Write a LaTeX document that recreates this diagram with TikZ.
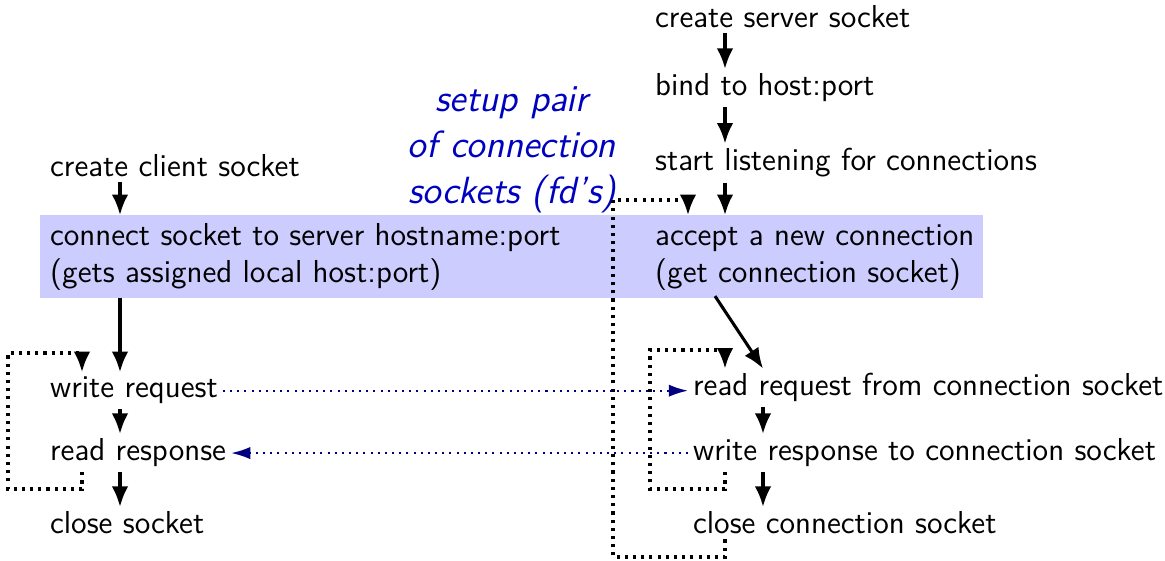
\documentclass[tikz,border=0pt]{standalone}
\usepackage{tikz}
\usetikzlibrary{arrows.meta}
\renewcommand{\familydefault}{\sfdefault}

\begin{document}
\begin{tikzpicture}[x=0.3906pt,y=-0.3906pt,
    txt/.style={anchor=base west,inner sep=0pt,outer sep=2pt,font=\fontsize{12.4}{14.5}\selectfont},
    flow/.style={-{Latex[length=8pt,width=6.5pt]},line width=1.2pt},
    dotloop/.style={-{Latex[length=8pt,width=6.5pt]},line width=1.2pt,dotted},
    msg/.style={-{Latex[length=7.5pt,width=4.8pt]},thick,dotted,color=blue!50!black},
    hl/.style={fill=blue!20,inner sep=0pt,outer sep=0pt,minimum width=368.3pt,minimum height=32.4pt}]
            \useasboundingbox (0,0) rectangle (1165,561);
            \node[hl] (box) at (511.5,256.5) {}; %highlight of the accept/connect step

            % columns of the arrows
            \coordinate (cx) at (120,0);
            \coordinate (lx) at (82,0);
            \coordinate (sx) at (725,0);
            \coordinate (ox) at (688,0);
            \coordinate (rx) at (763,0);
            \coordinate (ax) at (715,0);

            % client
            \node[txt] (ccs) at (45,177) {create client socket};
            \node[txt,align=left] (conn) at (45,283) {connect socket to server hostname:port\\(gets assigned local host:port)};
            \node[txt] (wreq) at (45,398) {write request};
            \node[txt] (rresp) at (45,461) {read response};
            \node[txt] (cls) at (45,534) {close socket};

            % server
            \node[txt] (css) at (650,28) {create server socket};
            \node[txt] (bind) at (650,96) {bind to host:port};
            \node[txt] (lst) at (650,171) {start listening for connections};
            \node[txt,align=left] (acc) at (650,283) {accept a new connection\\(get connection socket)};
            \node[txt] (rreq) at (688,396) {read request from connection socket};
            \node[txt] (wresp) at (688,461) {write response to connection socket};
            \node[txt] (clsc) at (688,534) {close connection socket};

            % note
            \node[align=center,text=blue!75!black,font=\fontsize{14.8}{18}\selectfont\itshape] (note) at (512,150) {setup pair\\of connection\\sockets (fd's)};

            % client arrows
            \draw[flow] (ccs.south -| cx) -- (box.north -| cx);
            \draw[flow] (box.south -| cx) -- (wreq.north -| cx);
            \draw[flow] (wreq.south -| cx) -- (rresp.north -| cx);
            \draw[flow] (rresp.south -| cx) -- (cls.north -| cx);
            \draw[dotloop] (rresp.south -| lx) |- (8,489) |- (82,353) -- (wreq.north -| lx);

            % server arrows
            \draw[flow] (css.south -| sx) -- (bind.north -| sx);
            \draw[flow] (bind.south -| sx) -- (lst.north -| sx);
            \draw[flow] (lst.south -| sx) -- (box.north -| sx);
            \draw[flow] (acc.south -| ax) -- (rreq.north -| rx);
            \draw[flow] (rreq.south -| rx) -- (wresp.north -| rx);
            \draw[flow] (wresp.south -| rx) -- (clsc.north -| rx);
            \draw[dotloop] (wresp.south -| sx) |- (650,489) |- (725,350) -- (rreq.north -| sx);
            \draw[dotloop] (clsc.south -| sx) |- (613,557) |- (688,200) -- (box.north -| ox);

            % messages
            \draw[msg] (wreq.east) -- (wreq.east -| rreq.west);
            \draw[msg] (wresp.west) -- (wresp.west -| rresp.east);
\end{tikzpicture}
\end{document}
